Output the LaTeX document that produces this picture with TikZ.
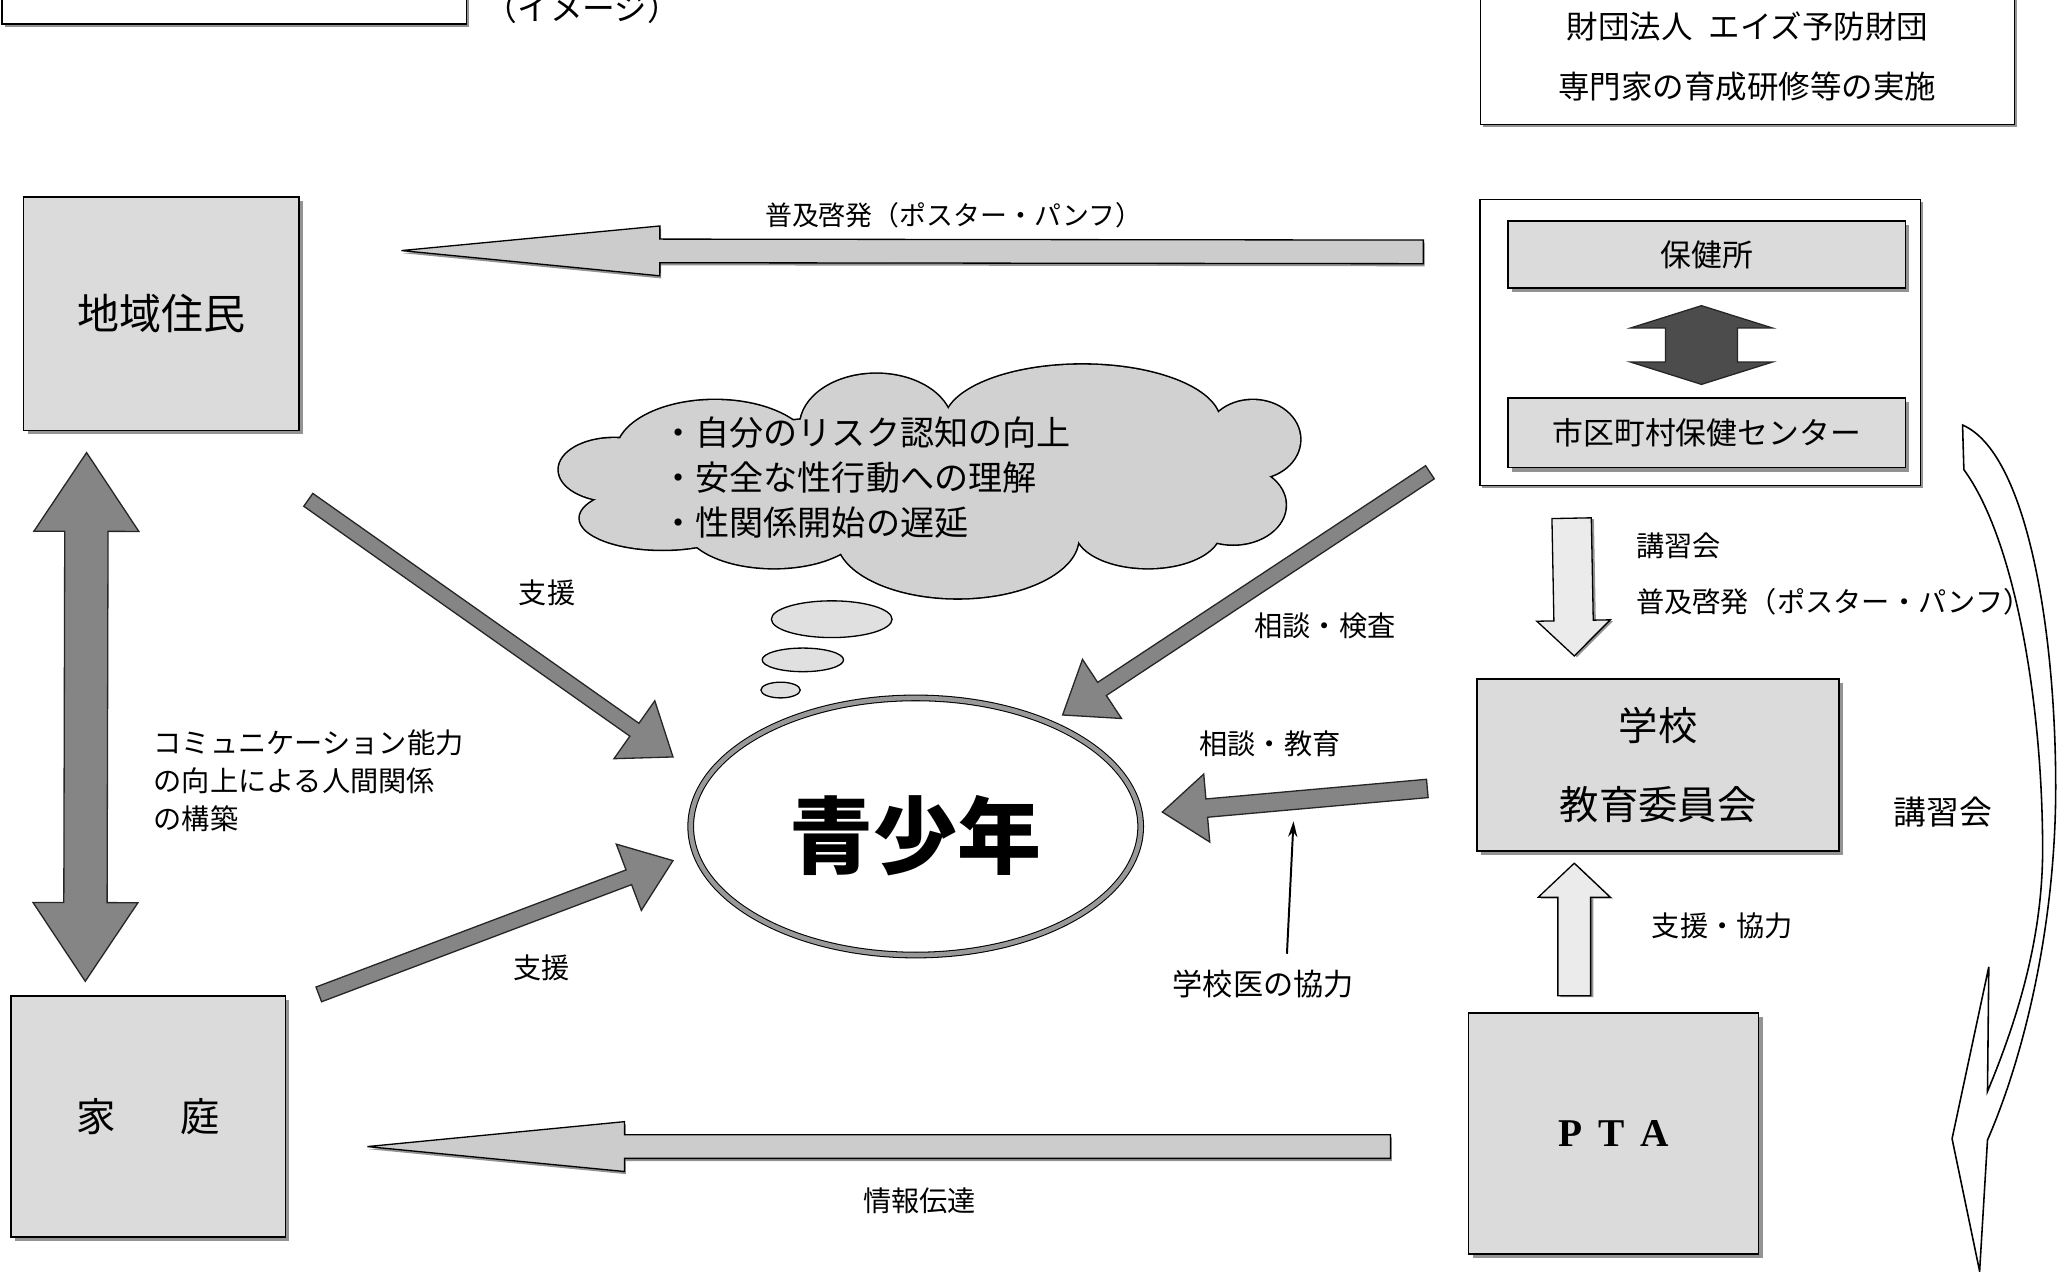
\documentclass[tikz,border=0pt]{standalone}
\usepackage{fontspec}
\setmainfont{Noto Sans CJK JP}
\newfontfamily\ptafont{Liberation Serif}
\usetikzlibrary{calc}
\usetikzlibrary{arrows.meta}
\usetikzlibrary{shapes.geometric}
\usetikzlibrary{shadows}
\tikzset{graybox/.style = {draw, line width = 1.2pt, fill = black!14, inner sep = 0,
                           drop shadow = {shadow xshift = 3pt, shadow yshift = -3pt, opacity = .85}}}
\tikzset{whitebox/.style = {draw, line width = 1.2pt, fill = white, inner sep = 0,
                            drop shadow = {shadow xshift = 2pt, shadow yshift = -2pt, opacity = .85}}}
\tikzset{lbl/.style = {font = \fontsize{21.5}{26}\selectfont, inner sep = 0}}
\tikzset{bigarr/.style = {draw, line width = 1pt, fill = black!20,
                          drop shadow = {shadow xshift = 1pt, shadow yshift = -2pt, opacity = .85}}}
\tikzset{darkarr/.style = {draw = black!85, line width = 1pt, fill = black!48}}
\tikzset{lightarr/.style = {draw, line width = 1pt, fill = black!8,
                            drop shadow = {shadow xshift = 2pt, shadow yshift = -1pt, opacity = .85}}}
\tikzset{bubble/.style = {draw, ellipse, line width = 1pt, fill = black!12, inner sep = 0}}
% block arrow: [style]{tail}{tip}{half shaft}{head length}{half head}
\newcommand{\blkarrow}[6][]{%
  \path ($(#3)!#5!(#2)$) coordinate (tmpbase);
  \filldraw [#1] ($(#2)!#4!90:(#3)$) -- ($(tmpbase)!#4!90:(#3)$)
    -- ($(tmpbase)!#6!90:(#3)$) -- (#3) -- ($(tmpbase)!#6!-90:(#3)$)
    -- ($(tmpbase)!#4!-90:(#3)$) -- ($(#2)!#4!-90:(#3)$) -- cycle;}
% double block arrow: [style]{tip a}{tip b}{half shaft}{head length}{half head}
\newcommand{\dblarrow}[6][]{%
  \path ($(#2)!#5!(#3)$) coordinate (tmpa) ($(#3)!#5!(#2)$) coordinate (tmpb);
  \filldraw [#1] (#2) -- ($(tmpa)!#6!90:(#3)$) -- ($(tmpa)!#4!90:(#3)$)
    -- ($(tmpb)!#4!-90:(#2)$) -- ($(tmpb)!#6!-90:(#2)$) -- (#3)
    -- ($(tmpb)!#6!90:(#2)$) -- ($(tmpb)!#4!90:(#2)$)
    -- ($(tmpa)!#4!-90:(#3)$) -- ($(tmpa)!#6!-90:(#3)$) -- cycle;}
\newcommand{\puffs}{545/345/75/40, 668/325/58/40, 825/322/105/44, 955/335/36/30,
  940/385/40/30, 875/405/55/28, 730/410/92/46, 590/400/68/33, 505/395/63/24,
  468/358/42/24, 710/365/230/50, 915/350/30/25}

\begin{document}
\begin{tikzpicture}[x = 1pt, y = -1pt]
  \useasboundingbox (0, 0) rectangle (1568, 969);
  % boxes
  \node [whitebox, minimum width = 354, minimum height = 60, anchor = south west] (title) at (1, 19) {};
  \node [lbl, font = \fontsize{25}{30}\selectfont] (image) at (444, 6) {（イメージ）};
  \node [whitebox, minimum width = 407, minimum height = 104, align = center,
         font = \fontsize{24}{46}\selectfont] (zaidan) at (1332, 43)
        {財団法人\hspace{0.5em}エイズ予防財団\\専門家の育成研修等の実施};
  \node [graybox, minimum width = 210, minimum height = 178,
         font = \fontsize{32}{36}\selectfont] (jumin) at (123, 239) {地域住民};
  \node [graybox, minimum width = 209, minimum height = 184,
         font = \fontsize{30}{36}\selectfont] (katei) at (113, 851) {家\hspace{1.65em}庭};
  \node [whitebox, minimum width = 336, minimum height = 218] (hokenbu) at (1296, 261) {};
  \node [graybox, minimum width = 303, minimum height = 51,
         font = \fontsize{23.5}{28}\selectfont] (hokensho) at (1301, 194) {保健所};
  \node [graybox, minimum width = 303, minimum height = 53,
         font = \fontsize{23.5}{28}\selectfont] (hcenter) at (1301, 330) {市区町村保健センター};
  \node [graybox, minimum width = 276, minimum height = 131, align = center,
         font = \fontsize{30}{60}\selectfont] (gakko) at (1264, 583) {学校\\教育委員会};
  \node [graybox, minimum width = 221, minimum height = 184,
         font = \ptafont\bfseries\fontsize{30}{36}\selectfont] (pta) at (1230, 864)
        {P\hspace{0.4em}T\hspace{0.4em}A};
  % youth and thoughts
  \node [ellipse, draw, line width = 0.8pt, double = black!40, double distance = 3.5pt,
         minimum width = 343, minimum height = 196, inner sep = 0, text height = 63pt, text depth = 0pt,
         font = \fontsize{64}{70}\selectfont\bfseries] (seishonen) at (698, 630) {青少年};
  \foreach \x/\y/\rx/\ry in \puffs
    \draw [line width = 2.4pt] (\x, \y) ellipse [x radius = \rx pt, y radius = \ry pt];
  \foreach \x/\y/\rx/\ry in \puffs
    \fill [black!18] (\x, \y) ellipse [x radius = \rx pt, y radius = \ry pt];
  \node [lbl, align = left, anchor = west, font = \fontsize{26}{34.5}\selectfont] (kokoro) at (504, 364)
        {・自分のリスク認知の向上\\・安全な性行動への理解\\・性関係開始の遅延};
  \node [bubble, minimum width = 92, minimum height = 28] (bubble1) at (634, 472) {};
  \node [bubble, minimum width = 62, minimum height = 18] (bubble2) at (612, 503) {};
  \node [bubble, minimum width = 30, minimum height = 12] (bubble3) at (595, 526) {};
  % arrow ends
  \coordinate (fukyu-s) at (1085, 192);
  \coordinate (fukyu-e) at (306, 191);
  \coordinate (joho-s) at (1060, 874);
  \coordinate (joho-e) at (280, 874);
  \coordinate (komyu-a) at (66, 345);
  \coordinate (komyu-b) at (65, 748);
  \coordinate (renkei-a) at (1297, 233);
  \coordinate (renkei-b) at (1297, 293);
  \coordinate (shien1-s) at (235, 381);
  \coordinate (shien1-e) at (513, 577);
  \coordinate (shien2-s) at (243, 758);
  \coordinate (shien2-e) at (513, 656);
  \coordinate (kensa-s) at (1090, 360);
  \coordinate (kensa-e) at (810, 545);
  \coordinate (kyoiku-s) at (1088, 601);
  \coordinate (kyoiku-e) at (886, 619);
  \coordinate (koshu-s) at (1198, 395);
  \coordinate (koshu-e) at (1200, 500);
  \coordinate (kyoryoku-s) at (1200, 759);
  \coordinate (kyoryoku-e) at (1200, 658);
  \coordinate (koui-s) at (981, 727);
  \coordinate (koui-e) at (986, 626);
  % arrows
  \blkarrow[bigarr]{fukyu-s}{fukyu-e}{9pt}{197pt}{19pt}
  \blkarrow[bigarr]{joho-s}{joho-e}{9pt}{196pt}{19pt}
  \dblarrow[darkarr]{komyu-a}{komyu-b}{16.5pt}{60pt}{40pt}
  \dblarrow[darkarr, fill = black!70]{renkei-a}{renkei-b}{27.5pt}{17pt}{54pt}
  \blkarrow[darkarr]{shien1-s}{shien1-e}{6pt}{36pt}{27pt}
  \blkarrow[darkarr]{shien2-s}{shien2-e}{6pt}{36pt}{27pt}
  \blkarrow[darkarr]{kensa-s}{kensa-e}{6pt}{36pt}{27pt}
  \blkarrow[darkarr]{kyoiku-s}{kyoiku-e}{7pt}{34pt}{26pt}
  \blkarrow[lightarr]{koshu-s}{koshu-e}{15pt}{27pt}{28pt}
  \blkarrow[lightarr]{kyoryoku-s}{kyoryoku-e}{12.5pt}{26pt}{27.5pt}
  \draw [line width = 1.5pt, -{Stealth[length = 12pt, width = 7pt]}] (koui-s) -- (koui-e);
  \filldraw [fill = white, draw = black, line width = 1.2pt]
    (1496, 324) .. controls (1545, 345) and (1567, 480) .. (1567, 600)
    .. controls (1567, 700) and (1545, 800) .. (1515, 869)
    -- (1509, 969) -- (1488, 868) -- (1516, 737) -- (1515, 832)
    .. controls (1545, 760) and (1558, 700) .. (1557, 640)
    .. controls (1556, 530) and (1535, 410) .. (1497, 358) -- cycle;
  % labels
  \node [lbl, font = \fontsize{20.5}{26}\selectfont] (l-fukyu) at (727, 164) {普及啓発（ポスター・パンフ）};
  \node [lbl] (l-shien1) at (417, 452) {支援};
  \node [lbl] (l-shien2) at (413, 738) {支援};
  \node [lbl] (l-kensa) at (1010, 477) {相談・検査};
  \node [lbl] (l-kyoiku) at (968, 567) {相談・教育};
  \node [lbl, font = \fontsize{23}{26}\selectfont] (l-koui) at (963, 750) {学校医の協力};
  \node [lbl] (l-joho) at (701, 915) {情報伝達};
  \node [lbl, align = left, anchor = west, font = \fontsize{21.5}{29}\selectfont] (l-komyu) at (117, 595)
        {コミュニケーション能力\\の向上による人間関係\\の構築};
  \node [lbl, anchor = west] (l-koshu) at (1247, 416) {講習会};
  \node [lbl, anchor = west] (l-fukyu2) at (1247, 459) {普及啓発（ポスター・パンフ）};
  \node [lbl] (l-kyoryoku) at (1313, 706) {支援・協力};
  \node [lbl, font = \fontsize{25}{30}\selectfont] (l-koshu2) at (1481, 619) {講習会};
\end{tikzpicture}
\end{document}
